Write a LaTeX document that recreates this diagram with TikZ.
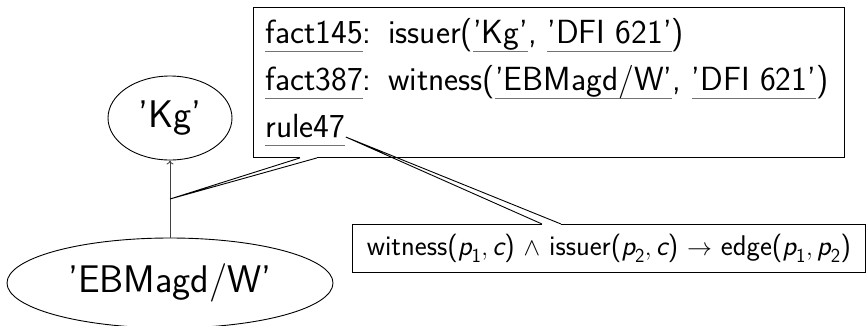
\documentclass[tikz,border=0pt]{standalone}
\usepackage{amsmath}
\renewcommand{\familydefault}{\sfdefault}
\usetikzlibrary{arrows.meta,shapes.geometric}

% single quotes round a constant
\newcommand{\q}[1]{'#1'}
% grey underline at a fixed depth, ignoring descenders
\newcommand{\ul}[1]{\setbox0\hbox{#1}\rlap{\color{black!55}\rule[-0.28em]{\wd0}{1.3pt}}\box0}
% sans italic variables
\newcommand{\pv}[1]{\textsl{p}_{\textsf{#1}}}
\newcommand{\cv}{\textsl{c}}

\begin{document}
\begin{tikzpicture}[x=1pt,y=-1pt,line width=0.9pt,
  ent/.style={draw,ellipse,inner sep=0pt,font=\fontsize{38.5}{38.5}\selectfont},
  factline/.style={anchor=base west,inner sep=0pt,font=\fontsize{33.5}{33.5}\selectfont},
  frame/.style={anchor=north west,inner sep=0pt},
  callout/.style={line width=0.9pt}]
\useasboundingbox (0,0) rectangle (866,325);

% entities
\node[ent,minimum width=124pt,minimum height=84pt] (kg) at (170,118) {\q{Kg}};
\node[ent,minimum width=326pt,minimum height=90pt] (ebm) at (170,283) {\q{EBMagd/W}};
\draw[-{To[length=4pt,width=7pt]},black!75] (ebm) -- (kg) coordinate[midway] (mid);

% provenance box
\node[frame,minimum width=591pt,minimum height=150pt] (facts) at (253,7) {};
\node[factline] (l1) at (265,43) {\ul{fact145}:\enspace issuer(\ul{\q{Kg}}, \ul{\q{DFI 621}})};
\node[factline] (l2) at (265,90) {\ul{fact387}:\enspace witness(\ul{\q{EBMagd/W}}, \ul{\q{DFI 621}})};
\node[factline] (l3) at (265,137) {\ul{rule47}};
\coordinate (g1) at ([xshift=47pt]facts.south west);
\coordinate (g2) at ([xshift=64pt]facts.south west);
\draw (g1) -| (facts.north west) -| (facts.south east) -- (g2);
\draw[callout] (mid) -- (g1) (mid) -- (g2);

% rule box
\node[frame,minimum width=513pt,minimum height=48pt,font=\fontsize{28.5}{28.5}\selectfont] (rule) at (352,224)
  {witness(\(\pv{1}, \cv\)) \(\wedge\) issuer(\(\pv{2}, \cv\)) \(\rightarrow\) edge(\(\pv{1}, \pv{2}\))};
\coordinate (g3) at ([xshift=190pt]rule.north west);
\coordinate (g4) at ([xshift=209pt]rule.north west);
\draw (g3) -| (rule.south west) -| (rule.north east) -- (g4);
\draw[callout] (l3.base east) -- (g3) (l3.base east) -- (g4);
\end{tikzpicture}
\end{document}
